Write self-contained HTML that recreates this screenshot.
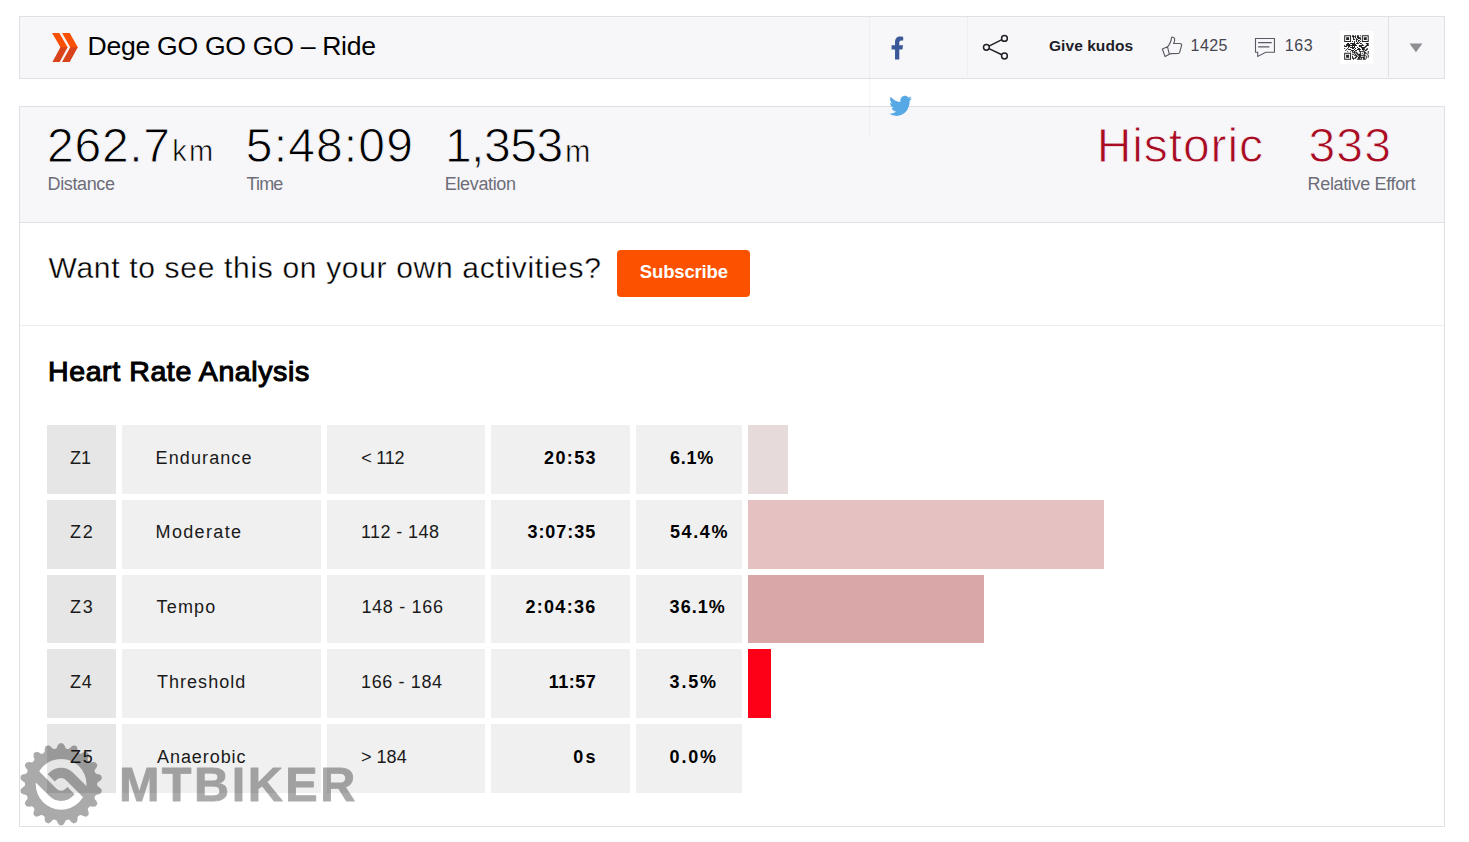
<!DOCTYPE html>
<html>
<head>
<meta charset="utf-8">
<title>Dege GO GO GO - Ride</title>
<style>
html,body{margin:0;padding:0;background:#fff;}
body{width:1469px;height:842px;position:relative;overflow:hidden;font-family:"Liberation Sans",sans-serif;color:#000;}
.abs{position:absolute;}
.t{position:absolute;white-space:nowrap;line-height:1;}
#hdr{left:19px;top:16px;width:1424px;height:61px;border:1px solid #e0e0e4;background:#f7f7fa;}
#stats{left:19px;top:106px;width:1424px;height:116px;border:1px solid #e0e0e4;border-bottom:none;background:#f7f7fa;}
#main{left:19px;top:222px;width:1424px;height:603px;border:1px solid #e0e0e1;border-top:1px solid #e0e0e4;background:#fff;}
#divider{left:20px;top:325px;width:1424px;height:1px;background:#ececee;}
#btn{left:617px;top:250px;width:133px;height:47px;border-radius:4px;background:#fc5200;}
.cell{position:absolute;background:#f0f0f0;}
.cell.z{background:#e6e6e6;}
.bar{position:absolute;left:748px;}
</style>
</head>
<body>
<div class="abs" id="hdr"></div>
<div class="abs" id="stats"></div>
<div class="abs" id="main"></div>
<div class="abs" id="divider"></div>
<div class="abs" style="left:869px;top:17px;width:1px;height:119px;background:rgba(0,0,20,0.035);"></div>
<div class="abs" style="left:967px;top:17px;width:1px;height:60px;background:rgba(0,0,20,0.035);"></div>
<div class="abs" style="left:1388px;top:17px;width:1px;height:60px;background:#e0e0e4;"></div>
<svg class="abs" style="left:0;top:0;" width="1469" height="140" viewBox="0 0 1469 140">
<path d="M60.1 46.7H67.3L67.6 47.2L59.7 61.9H52.4L60.4 47.2Z M69.9 46.7H77.5L77.8 47.2L69.7 61.9H62.1L70.2 47.2Z" fill="#d9421a"/>
<path d="M52.1 32.9H59.3L67.6 47.2H60.4Z M62.1 32.9H69.7L77.8 47.2H70.2Z" fill="#fa5005"/>
<path transform="translate(890.632 36.6) scale(0.04230 0.04453)" fill="#3b5998" d="M279.14 288l14.22-92.66h-88.91v-60.13c0-25.35 12.42-50.06 52.24-50.06h40.42V6.26S260.43 0 225.36 0c-73.22 0-121.08 44.38-121.08 124.72v70.62H22.89V288h81.39v224h100.17V288z"/>
<path transform="translate(889.2 93.481) scale(0.04453 0.04832)" fill="#57a9e6" d="M459.37 151.716c.325 4.548.325 9.097.325 13.645 0 138.72-105.583 298.558-298.558 298.558-59.452 0-114.68-17.219-161.137-47.106 8.447.974 16.568 1.299 25.34 1.299 49.055 0 94.213-16.568 130.274-44.832-46.132-.975-84.792-31.188-98.112-72.772 6.498.974 12.995 1.624 19.818 1.624 9.421 0 18.843-1.3 27.614-3.573-48.081-9.747-84.143-51.98-84.143-102.985v-1.299c13.969 7.797 30.214 12.67 47.431 13.319-28.264-18.843-46.781-51.005-46.781-87.391 0-19.492 5.197-37.36 14.294-52.954 51.655 63.675 129.3 105.258 216.365 109.807-1.624-7.797-2.599-15.918-2.599-24.04 0-57.828 46.782-104.934 104.934-104.934 30.213 0 57.502 12.67 76.67 33.137 23.715-4.548 46.456-13.32 66.599-25.34-7.798 24.366-24.366 44.833-46.132 57.827 21.117-2.273 41.584-8.122 60.426-16.243-14.292 20.791-32.161 39.308-52.628 54.253z"/>
<g fill="none" stroke="#1f1f26" stroke-width="1.5"><path d="M989 46.1L1001.9 39.7M989 48.6L1001.9 54.7"/><circle cx="986.4" cy="47.35" r="2.9"/><circle cx="1004.45" cy="38.4" r="2.9"/><circle cx="1004.45" cy="56" r="2.9"/></g>
<g fill="none" stroke="#5a5a64" stroke-width="1.15" stroke-linejoin="round"><path d="M1162.3 49L1167.5 46.8L1169.3 54.2L1165.1 56.6Z"/><path d="M1167.5 46.8C1168.2 46.2 1168.6 45.8 1168.8 45.3C1169.8 43.6 1170.6 42 1171 40.5C1171.3 39.3 1171.4 38.3 1171.6 37.5C1172 37.1 1172.5 37.1 1172.9 37.3C1174 37.6 1174.6 38.2 1174.6 38.9C1174.8 40 1174.6 41 1174.4 41.7C1174.2 42.4 1173.9 42.9 1173.6 43.4L1180 43.5C1181.2 43.6 1181.8 44.1 1181.7 44.9C1181.5 46 1181.2 46.8 1180.9 47.8L1179.7 52.1C1179.5 53 1179.2 53.4 1178.4 53.45L1171.2 53.6L1169.3 54.2"/></g>
<g fill="none" stroke="#5a5a64" stroke-width="1.1"><path d="M1257.7 52.3H1255.5V38.55H1274.45V52.3H1265.8L1257.7 56.45Z" stroke-linejoin="miter"/><path d="M1258.1 42.7H1271.8M1258.1 46.9H1269.4" stroke-width="1.2"/></g>
<path d="M1409.5 43.4H1422.4L1415.95 52.2Z" fill="#8d8d93"/>
<rect x="1340" y="31" width="33.4" height="32.8" fill="#fff"/>
<path transform="translate(1344.2 35.2) scale(0.9800)" fill="#222" d="M0 0h7v1h-7zM8 0h2v1h-2zM11 0h1v1h-1zM13 0h2v1h-2zM16 0h1v1h-1zM18 0h7v1h-7zM0 1h1v1h-1zM6 1h1v1h-1zM8 1h4v1h-4zM13 1h2v1h-2zM18 1h1v1h-1zM24 1h1v1h-1zM0 2h1v1h-1zM2 2h3v1h-3zM6 2h1v1h-1zM9 2h1v1h-1zM11 2h1v1h-1zM13 2h4v1h-4zM18 2h1v1h-1zM20 2h3v1h-3zM24 2h1v1h-1zM0 3h1v1h-1zM2 3h3v1h-3zM6 3h1v1h-1zM9 3h1v1h-1zM12 3h1v1h-1zM14 3h3v1h-3zM18 3h1v1h-1zM20 3h3v1h-3zM24 3h1v1h-1zM0 4h1v1h-1zM2 4h3v1h-3zM6 4h1v1h-1zM9 4h2v1h-2zM12 4h2v1h-2zM16 4h1v1h-1zM18 4h1v1h-1zM20 4h3v1h-3zM24 4h1v1h-1zM0 5h1v1h-1zM6 5h1v1h-1zM12 5h1v1h-1zM14 5h2v1h-2zM18 5h1v1h-1zM24 5h1v1h-1zM0 6h7v1h-7zM8 6h1v1h-1zM10 6h1v1h-1zM12 6h1v1h-1zM14 6h1v1h-1zM16 6h1v1h-1zM18 6h7v1h-7zM10 7h1v1h-1zM13 7h1v1h-1zM15 7h1v1h-1zM3 8h2v1h-2zM6 8h5v1h-5zM12 8h3v1h-3zM16 8h2v1h-2zM22 8h3v1h-3zM2 9h4v1h-4zM8 9h4v1h-4zM18 9h1v1h-1zM23 9h2v1h-2zM0 10h1v1h-1zM2 10h11v1h-11zM15 10h5v1h-5zM22 10h3v1h-3zM0 11h3v1h-3zM4 11h2v1h-2zM8 11h1v1h-1zM10 11h1v1h-1zM15 11h3v1h-3zM21 11h2v1h-2zM4 12h1v1h-1zM6 12h5v1h-5zM13 12h1v1h-1zM17 12h5v1h-5zM0 13h1v1h-1zM3 13h1v1h-1zM8 13h2v1h-2zM11 13h1v1h-1zM14 13h2v1h-2zM18 13h3v1h-3zM23 13h1v1h-1zM2 14h1v1h-1zM4 14h3v1h-3zM10 14h1v1h-1zM13 14h4v1h-4zM18 14h3v1h-3zM22 14h2v1h-2zM1 15h1v1h-1zM7 15h3v1h-3zM11 15h2v1h-2zM15 15h1v1h-1zM19 15h1v1h-1zM21 15h2v1h-2zM3 16h1v1h-1zM6 16h1v1h-1zM8 16h1v1h-1zM10 16h1v1h-1zM15 16h6v1h-6zM24 16h1v1h-1zM8 17h5v1h-5zM16 17h1v1h-1zM20 17h2v1h-2zM24 17h1v1h-1zM0 18h7v1h-7zM10 18h1v1h-1zM12 18h2v1h-2zM16 18h1v1h-1zM18 18h1v1h-1zM20 18h3v1h-3zM24 18h1v1h-1zM0 19h1v1h-1zM6 19h1v1h-1zM8 19h2v1h-2zM11 19h1v1h-1zM13 19h4v1h-4zM20 19h1v1h-1zM23 19h1v1h-1zM0 20h1v1h-1zM2 20h3v1h-3zM6 20h1v1h-1zM10 20h3v1h-3zM14 20h8v1h-8zM24 20h1v1h-1zM0 21h1v1h-1zM2 21h3v1h-3zM6 21h1v1h-1zM8 21h1v1h-1zM12 21h2v1h-2zM15 21h2v1h-2zM20 21h1v1h-1zM22 21h1v1h-1zM24 21h1v1h-1zM0 22h1v1h-1zM2 22h3v1h-3zM6 22h1v1h-1zM8 22h1v1h-1zM11 22h2v1h-2zM14 22h7v1h-7zM22 22h1v1h-1zM24 22h1v1h-1zM0 23h1v1h-1zM6 23h1v1h-1zM8 23h4v1h-4zM14 23h2v1h-2zM17 23h1v1h-1zM19 23h2v1h-2zM22 23h1v1h-1zM0 24h7v1h-7zM9 24h1v1h-1zM13 24h5v1h-5zM19 24h3v1h-3z"/>
</svg>

<div class="abs" id="btn"></div>
<div class="cell z" style="left:47px;top:425px;width:69px;height:69px;"></div>
<div class="cell" style="left:122px;top:425px;width:199px;height:69px;"></div>
<div class="cell" style="left:327px;top:425px;width:158px;height:69px;"></div>
<div class="cell" style="left:491px;top:425px;width:139px;height:69px;"></div>
<div class="cell" style="left:636px;top:425px;width:106px;height:69px;"></div>
<div class="bar" style="top:425px;width:40px;height:69px;background:#e7dadb;"></div>
<div class="cell z" style="left:47px;top:500px;width:69px;height:69px;"></div>
<div class="cell" style="left:122px;top:500px;width:199px;height:69px;"></div>
<div class="cell" style="left:327px;top:500px;width:158px;height:69px;"></div>
<div class="cell" style="left:491px;top:500px;width:139px;height:69px;"></div>
<div class="cell" style="left:636px;top:500px;width:106px;height:69px;"></div>
<div class="bar" style="top:500px;width:356px;height:69px;background:#e5c1c1;"></div>
<div class="cell z" style="left:47px;top:575px;width:69px;height:68px;"></div>
<div class="cell" style="left:122px;top:575px;width:199px;height:68px;"></div>
<div class="cell" style="left:327px;top:575px;width:158px;height:68px;"></div>
<div class="cell" style="left:491px;top:575px;width:139px;height:68px;"></div>
<div class="cell" style="left:636px;top:575px;width:106px;height:68px;"></div>
<div class="bar" style="top:575px;width:236px;height:68px;background:#d9a7a8;"></div>
<div class="cell z" style="left:47px;top:649px;width:69px;height:69px;"></div>
<div class="cell" style="left:122px;top:649px;width:199px;height:69px;"></div>
<div class="cell" style="left:327px;top:649px;width:158px;height:69px;"></div>
<div class="cell" style="left:491px;top:649px;width:139px;height:69px;"></div>
<div class="cell" style="left:636px;top:649px;width:106px;height:69px;"></div>
<div class="bar" style="top:649px;width:23px;height:69px;background:#fd0018;"></div>
<div class="cell z" style="left:47px;top:724px;width:69px;height:69px;"></div>
<div class="cell" style="left:122px;top:724px;width:199px;height:69px;"></div>
<div class="cell" style="left:327px;top:724px;width:158px;height:69px;"></div>
<div class="cell" style="left:491px;top:724px;width:139px;height:69px;"></div>
<div class="cell" style="left:636px;top:724px;width:106px;height:69px;"></div>
<div class="t" id="title" style="left:87.60px;top:32.78px;font-size:26.6px;letter-spacing:-0.300px;">Dege GO GO GO – Ride</div>
<div class="t" id="kudos" style="left:1049.00px;top:38.18px;font-size:15.5px;font-weight:bold;color:#1e1e28;letter-spacing:0.056px;">Give kudos</div>
<div class="t" id="k1425" style="left:1190.60px;top:38.06px;font-size:16px;color:#45454f;letter-spacing:0.405px;">1425</div>
<div class="t" id="c163" style="left:1284.80px;top:38.06px;font-size:16px;color:#45454f;letter-spacing:0.600px;">163</div>
<div class="t" id="s1" style="left:47.10px;top:122.07px;font-size:48px;letter-spacing:0.700px;-webkit-text-stroke:0.9px #f7f7fa;">262.7</div>
<div class="t" id="u1" style="left:172.30px;top:137.45px;font-size:29px;letter-spacing:2.100px;-webkit-text-stroke:0.6px #f7f7fa;">km</div>
<div class="t" id="l1" style="left:47.60px;top:174.86px;font-size:18px;color:#6d6d78;letter-spacing:-0.378px;">Distance</div>
<div class="t" id="s2" style="left:245.80px;top:122.07px;font-size:48px;letter-spacing:1.152px;-webkit-text-stroke:0.9px #f7f7fa;">5:48:09</div>
<div class="t" id="l2" style="left:246.60px;top:174.86px;font-size:18px;color:#6d6d78;letter-spacing:-0.864px;">Time</div>
<div class="t" id="s3" style="left:444.90px;top:122.07px;font-size:48px;letter-spacing:-0.475px;-webkit-text-stroke:0.9px #f7f7fa;">1,353</div>
<div class="t" id="u3" style="left:565.10px;top:136.18px;font-size:30.5px;-webkit-text-stroke:0.6px #f7f7fa;">m</div>
<div class="t" id="l3" style="left:444.80px;top:174.86px;font-size:18px;color:#6d6d78;letter-spacing:-0.351px;">Elevation</div>
<div class="t" id="s4" style="left:1096.80px;top:122.07px;font-size:48px;color:#a90b22;letter-spacing:0.873px;-webkit-text-stroke:0.9px #f7f7fa;">Historic</div>
<div class="t" id="s5" style="left:1308.40px;top:122.07px;font-size:48px;color:#a90b22;letter-spacing:1.200px;-webkit-text-stroke:0.9px #f7f7fa;">333</div>
<div class="t" id="l5" style="left:1307.60px;top:174.86px;font-size:18px;color:#6d6d78;letter-spacing:-0.348px;">Relative Effort</div>
<div class="t" id="want" style="left:48.60px;top:253.30px;font-size:30px;letter-spacing:0.678px;-webkit-text-stroke:0.35px #fff;">Want to see this on your own activities?</div>
<div class="t" id="btnt" style="left:639.80px;top:263.34px;font-size:18.5px;font-weight:bold;color:#fff;letter-spacing:-0.150px;">Subscribe</div>
<div class="t" id="hra" style="left:48.00px;top:357.17px;font-size:28.5px;letter-spacing:0.603px;-webkit-text-stroke:1.1px #000;">Heart Rate Analysis</div>
<div class="t" id="z0" style="left:70.00px;top:448.56px;font-size:18px;color:#1a1a1a;">Z1</div>
<div class="t" id="n0" style="left:155.60px;top:448.56px;font-size:18px;color:#1a1a1a;letter-spacing:1.100px;">Endurance</div>
<div class="t" id="r0" style="left:361.20px;top:448.56px;font-size:18px;color:#1a1a1a;letter-spacing:-0.250px;">&lt; 112</div>
<div class="t" id="t0" style="left:544.00px;top:448.56px;font-size:18px;font-weight:bold;letter-spacing:1.375px;">20:53</div>
<div class="t" id="p0" style="left:670.00px;top:448.56px;font-size:18px;font-weight:bold;letter-spacing:0.769px;">6.1%</div>
<div class="t" id="z1" style="left:70.00px;top:523.31px;font-size:18px;color:#1a1a1a;letter-spacing:1.800px;">Z2</div>
<div class="t" id="n1" style="left:155.60px;top:523.31px;font-size:18px;color:#1a1a1a;letter-spacing:1.336px;">Moderate</div>
<div class="t" id="r1" style="left:361.00px;top:523.31px;font-size:18px;color:#1a1a1a;letter-spacing:0.401px;">112 - 148</div>
<div class="t" id="t1" style="left:527.40px;top:523.31px;font-size:18px;font-weight:bold;letter-spacing:0.986px;">3:07:35</div>
<div class="t" id="p1" style="left:670.00px;top:523.31px;font-size:18px;font-weight:bold;letter-spacing:1.600px;">54.4%</div>
<div class="t" id="z2" style="left:70.00px;top:598.06px;font-size:18px;color:#1a1a1a;letter-spacing:1.800px;">Z3</div>
<div class="t" id="n2" style="left:156.60px;top:598.06px;font-size:18px;color:#1a1a1a;letter-spacing:1.150px;">Tempo</div>
<div class="t" id="r2" style="left:361.40px;top:598.06px;font-size:18px;color:#1a1a1a;letter-spacing:0.700px;">148 - 166</div>
<div class="t" id="t2" style="left:525.40px;top:598.06px;font-size:18px;font-weight:bold;letter-spacing:1.319px;">2:04:36</div>
<div class="t" id="p2" style="left:669.60px;top:598.06px;font-size:18px;font-weight:bold;letter-spacing:1.025px;">36.1%</div>
<div class="t" id="z3" style="left:70.00px;top:672.81px;font-size:18px;color:#1a1a1a;letter-spacing:0.800px;">Z4</div>
<div class="t" id="n3" style="left:157.00px;top:672.81px;font-size:18px;color:#1a1a1a;letter-spacing:1.026px;">Threshold</div>
<div class="t" id="r3" style="left:361.00px;top:672.81px;font-size:18px;color:#1a1a1a;letter-spacing:0.625px;">166 - 184</div>
<div class="t" id="t3" style="left:548.80px;top:672.81px;font-size:18px;font-weight:bold;letter-spacing:0.450px;">11:57</div>
<div class="t" id="p3" style="left:669.60px;top:672.81px;font-size:18px;font-weight:bold;letter-spacing:1.772px;">3.5%</div>
<div class="t" id="z4" style="left:70.00px;top:747.56px;font-size:18px;color:#1a1a1a;letter-spacing:1.800px;">Z5</div>
<div class="t" id="n4" style="left:157.00px;top:747.56px;font-size:18px;color:#1a1a1a;letter-spacing:0.938px;">Anaerobic</div>
<div class="t" id="r4" style="left:361.00px;top:747.56px;font-size:18px;color:#1a1a1a;letter-spacing:0.025px;">&gt; 184</div>
<div class="t" id="t4" style="left:573.20px;top:747.56px;font-size:18px;font-weight:bold;letter-spacing:2.200px;">0s</div>
<div class="t" id="p4" style="left:669.60px;top:747.56px;font-size:18px;font-weight:bold;letter-spacing:1.800px;">0.0%</div>
<svg class="abs" id="wm" style="left:0;top:730px;" width="400" height="112" viewBox="0 730 400 112">
<g opacity="0.33">
<path fill="#000" fill-rule="evenodd" d="M59.50 743.23L62.70 743.23L64.69 745.87A3.2 3.2 0 0 0 70.87 746.96L73.64 745.16L76.65 746.25L77.62 749.41A3.2 3.2 0 0 0 83.05 752.55L86.27 751.81L88.72 753.87L88.56 757.17A3.2 3.2 0 0 0 92.59 761.97L95.87 762.38L97.47 765.15L96.18 768.20A3.2 3.2 0 0 0 98.32 774.09L101.27 775.59L101.82 778.74L99.57 781.17A3.2 3.2 0 0 0 99.57 787.43L101.82 789.86L101.27 793.01L98.32 794.51A3.2 3.2 0 0 0 96.18 800.40L97.47 803.45L95.87 806.22L92.59 806.63A3.2 3.2 0 0 0 88.56 811.43L88.72 814.73L86.27 816.79L83.05 816.05A3.2 3.2 0 0 0 77.62 819.19L76.65 822.35L73.64 823.44L70.87 821.64A3.2 3.2 0 0 0 64.69 822.73L62.70 825.37L59.50 825.37L57.51 822.73A3.2 3.2 0 0 0 51.33 821.64L48.56 823.44L45.55 822.35L44.58 819.19A3.2 3.2 0 0 0 39.15 816.05L35.93 816.79L33.48 814.73L33.64 811.43A3.2 3.2 0 0 0 29.61 806.63L26.33 806.22L24.73 803.45L26.02 800.40A3.2 3.2 0 0 0 23.88 794.51L20.93 793.01L20.38 789.86L22.63 787.43A3.2 3.2 0 0 0 22.63 781.17L20.38 778.74L20.93 775.59L23.88 774.09A3.2 3.2 0 0 0 26.02 768.20L24.73 765.15L26.33 762.38L29.61 761.97A3.2 3.2 0 0 0 33.64 757.17L33.48 753.87L35.93 751.81L39.15 752.55A3.2 3.2 0 0 0 44.58 749.41L45.55 746.25L48.56 745.16L51.33 746.96A3.2 3.2 0 0 0 57.51 745.87ZM35.70 784.30a25.4 25.4 0 1 0 50.8 0a25.4 25.4 0 1 0 -50.8 0Z"/>
<path fill="none" stroke="#000" stroke-width="10.2" d="M89.03 795.97L69.23 776.17A11.5 11.5 0 0 0 52.97 776.17L51.20 777.94M33.17 772.63L52.97 792.43A11.5 11.5 0 0 0 69.23 792.43L71.00 790.66"/>
<text x="118.9" y="800.9" font-family="Liberation Sans, sans-serif" font-weight="bold" font-size="48.6" letter-spacing="2.5" fill="#000" stroke="#000" stroke-width="0.9" stroke-linejoin="round">MTBIKER</text>
</g>
</svg>

</body>
</html>
